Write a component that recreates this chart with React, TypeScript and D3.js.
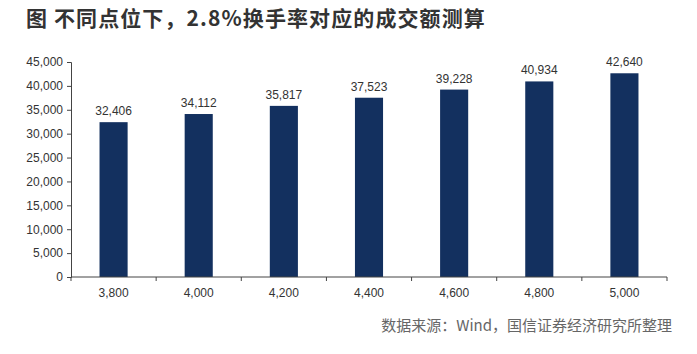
import React, { useEffect, useRef } from 'react';
import * as d3 from 'd3';

const categories = ['3,800', '4,000', '4,200', '4,400', '4,600', '4,800', '5,000'];
const values = [32406, 34112, 35817, 37523, 39228, 40934, 42640];
const yTicks = [0, 5000, 10000, 15000, 20000, 25000, 30000, 35000, 40000, 45000];

const title = '图 不同点位下，2.8%换手率对应的成交额测算';
const source = '数据来源：Wind，国信证券经济研究所整理';

const App: React.FC = () => {
  const svgRef = useRef<SVGSVGElement | null>(null);

  useEffect(() => {
    if (!svgRef.current) return;
    const width = 697;
    const height = 354;
    const margin = { top: 62, right: 30, bottom: 77, left: 71 };

    const svg = d3.select(svgRef.current);
    svg.selectAll('*').remove();

    const x = d3.scaleBand()
      .domain(categories)
      .range([margin.left, width - margin.right])
      .paddingInner(0.67)
      .paddingOuter(0.335);

    const y = d3.scaleLinear()
      .domain([0, 45000])
      .range([height - margin.bottom, margin.top]);

    const fmt = d3.format(',');

    // 标题
    svg.append('text')
      .attr('x', 26)
      .attr('y', 26)
      .attr('font-family', '"Noto Sans CJK SC", sans-serif')
      .attr('font-weight', 'bold')
      .attr('font-size', 21)
      .attr('letter-spacing', 1.1)
      .attr('fill', '#333')
      .text(title);

    // 柱子
    svg.append('g')
      .selectAll('rect')
      .data(values)
      .join('rect')
      .attr('x', (_, i) => x(categories[i])!)
      .attr('y', d => y(d))
      .attr('width', x.bandwidth())
      .attr('height', d => y(0) - y(d))
      .attr('fill', '#13305f');

    // 数值标签
    svg.append('g')
      .selectAll('text')
      .data(values)
      .join('text')
      .attr('x', (_, i) => x(categories[i])! + x.bandwidth() / 2)
      .attr('y', d => y(d) - 7)
      .attr('text-anchor', 'middle')
      .attr('font-family', '"Liberation Sans", Arial, sans-serif')
      .attr('font-size', 12)
      .attr('fill', '#333')
      .text(d => fmt(d));

    // Y 轴
    const yAxis = svg.append('g')
      .attr('transform', `translate(${margin.left},0)`)
      .call(d3.axisLeft(y).tickValues(yTicks).tickFormat(d => fmt(d as number)).tickSize(4).tickPadding(4));
    yAxis.select('.domain').attr('stroke', '#444');
    yAxis.selectAll('.tick line').attr('stroke', '#444');
    yAxis.selectAll('text')
      .attr('font-family', '"Liberation Sans", Arial, sans-serif')
      .attr('font-size', 12)
      .attr('fill', '#333');

    // X 轴
    const bounds = d3.range(categories.length + 1).map(i => margin.left + (width - margin.right - margin.left) * i / categories.length);
    const xg = svg.append('g');
    xg.append('line')
      .attr('x1', margin.left)
      .attr('x2', width - margin.right)
      .attr('y1', y(0))
      .attr('y2', y(0))
      .attr('stroke', '#444');
    xg.selectAll('line.t')
      .data(bounds)
      .join('line')
      .attr('class', 't')
      .attr('x1', d => d)
      .attr('x2', d => d)
      .attr('y1', y(0))
      .attr('y2', y(0) + 4)
      .attr('stroke', '#444');
    xg.selectAll('text')
      .data(categories)
      .join('text')
      .attr('x', d => x(d)! + x.bandwidth() / 2)
      .attr('y', y(0) + 20)
      .attr('text-anchor', 'middle')
      .attr('font-family', '"Liberation Sans", Arial, sans-serif')
      .attr('font-size', 12)
      .attr('fill', '#333')
      .text(d => d);

    // 数据来源
    svg.append('text')
      .attr('x', 672)
      .attr('y', 331)
      .attr('text-anchor', 'end')
      .attr('font-family', '"Noto Sans CJK SC", sans-serif')
      .attr('font-size', 15)
      .attr('fill', '#666')
      .text(source);
  }, []);

  return (
    <svg ref={svgRef} width={697} height={354} style={{ display: 'block', position: 'absolute', left: 0, top: 0, background: '#fff' }} />
  );
};

export default App;
